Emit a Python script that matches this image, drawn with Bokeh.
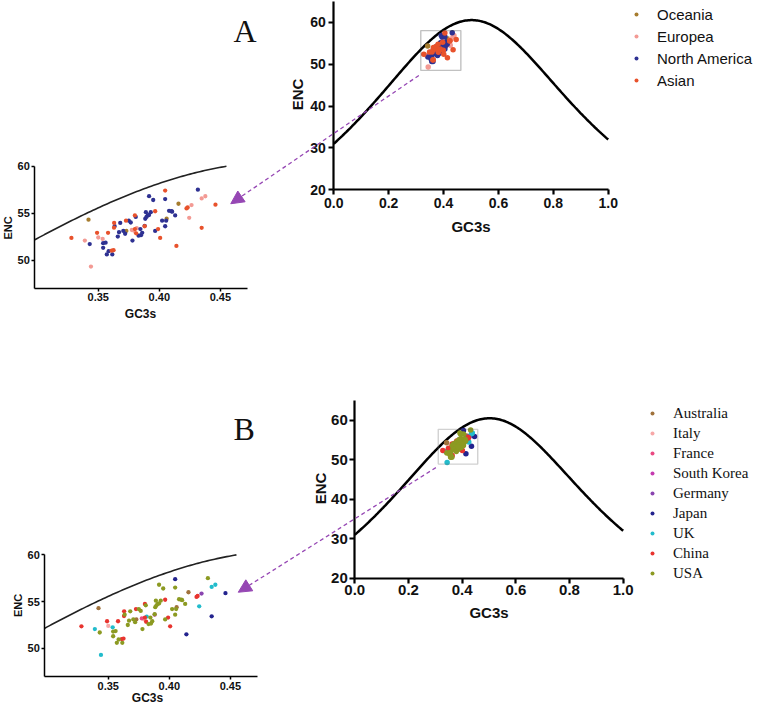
import math
import numpy as np
from bokeh.plotting import figure
from bokeh.models import (Range1d, FixedTicker, NumeralTickFormatter, Legend, LegendItem,
                          Arrow, NormalHead, BoxAnnotation, Label, LinearAxis)
from bokeh.embed import file_html
from bokeh.resources import INLINE

# ---------------- data ----------------
gc3s = [0.328, 0.349, 0.358, 0.361, 0.3625, 0.363, 0.3629, 0.3727, 0.380, 0.380, 0.381, 0.3966,
        0.399, 0.4007, 0.4223, 0.4232,
        0.4048, 0.414, 0.4347, 0.446,
        0.388,
        0.4264,
        0.3775,
        0.350, 0.3795,
        0.339, 0.344, 0.3536, 0.3815, 0.4245, 0.4347, 0.4377,
        0.342, 0.4157, 0.406, 0.373,
        0.343, 0.354, 0.356, 0.354, 0.357, 0.3585, 0.3615, 0.3634, 0.366, 0.367, 0.368, 0.3705,
        0.372, 0.375, 0.3766, 0.378, 0.3807, 0.383, 0.385, 0.386, 0.3885, 0.3895, 0.3905, 0.3916,
        0.393, 0.3916, 0.395, 0.3966, 0.4023, 0.4048, 0.4048, 0.4056, 0.408, 0.410, 0.4105, 0.413,
        0.4316, 0.389, 0.388, 0.3845]
enc = [52.36, 52.9, 52.9, 51.0, 51.05, 53.96, 53.45, 54.2, 54.75, 53.3, 52.85, 55.2,
       53.3, 52.36, 55.5, 55.6,
       57.4, 51.5, 53.43, 55.9,
       53.6,
       55.86,
       53.2,
       52.4, 53.1,
       52.07, 49.3, 52.25, 53.4, 54.5, 56.57, 56.8,
       54.3, 56.0, 54.4, 53.1,
       51.7, 51.8, 51.85, 51.3, 50.6, 50.95, 50.6, 53.6, 52.5, 52.96, 53.96, 53.1,
       52.8, 54.2, 54.0, 52.07, 54.6, 52.6, 52.65, 52.9, 54.4, 54.6, 54.75, 54.8,
       55.1, 56.8, 56.4, 53.1, 54.2, 56.5, 53.6, 54.2, 55.25, 55.2, 55.15, 54.75,
       57.5, 55.1, 53.65, 53.3]
country = (["China"] * 16 + ["Japan"] * 4 + ["South Korea"] + ["Germany"] + ["France"]
           + ["Italy"] * 2 + ["UK"] * 7 + ["Australia"] * 4 + ["USA"] * 40)

region_of = {"China": "Asian", "Japan": "Asian", "South Korea": "Asian",
             "Italy": "Europea", "France": "Europea", "Germany": "Europea", "UK": "Europea",
             "USA": "North America", "Australia": "Oceania"}

regions = ["Oceania", "Europea", "North America", "Asian"]
region_colors = ["#a67c2e", "#f39a94", "#2e3192", "#e8522c"]
countries = ["Australia", "Italy", "France", "South Korea", "Germany", "Japan", "UK", "China", "USA"]
country_colors = ["#a0723c", "#f7a8a8", "#ea4a82", "#c53bb0", "#8a45b0", "#23238e", "#22bccc",
                  "#e8342f", "#8c9a22"]

x_ticks_main = [0.0, 0.2, 0.4, 0.6, 0.8, 1.0]
y_ticks_main = [20, 30, 40, 50, 60]
x_ticks_inset = [0.35, 0.40, 0.45]
y_ticks_inset = [50, 55, 60]

# expected ENC curve (Wright): ENC = 2 + s + 29 / (s^2 + (1 - s)^2)
curve_s_main = np.linspace(0.0, 1.0, 201)
curve_s_inset = np.linspace(0.298, 0.455, 80)


def expected_enc(s):
    return 2 + s + 29 / (s ** 2 + (1 - s) ** 2)


# ---------------- page geometry (pixel coords, y down) ----------------
PX0, PX1, PY0, PY1 = 0, 769, 0, 706
W, H = PX1 - PX0, PY1 - PY0

G = {
    "insA": dict(fl=34.3, ft=165.7, fw=212.4, fh=122.0, xr=(0.298, 0.472), yr=(47, 60)),
    "mainA": dict(fl=333.3, ft=0.75, fw=274.4, fh=188.55, xr=(0.0, 1.0), yr=(20, 65)),
    "insB": dict(fl=44.3, ft=554.3, fw=212.4, fh=121.7, xr=(0.298, 0.472), yr=(47, 60)),
    "mainB": dict(fl=354.3, ft=400.0, fw=268.4, fh=177.7, xr=(0.0, 1.0), yr=(20, 65)),
}


def to_page(g, x, y):
    x0, x1 = g["xr"]
    y0, y1 = g["yr"]
    return (g["fl"] + (x - x0) / (x1 - x0) * g["fw"],
            g["ft"] + (y1 - y) / (y1 - y0) * g["fh"])


p = figure(width=W, height=H, x_range=Range1d(PX0, PX1), y_range=Range1d(PY1, PY0),
           x_axis_type=None, y_axis_type=None, output_backend="svg",
           toolbar_location=None, tools="", min_border=0)
p.min_border_left = p.min_border_right = p.min_border_top = p.min_border_bottom = 0
p.outline_line_color = None
p.xgrid.visible = False
p.ygrid.visible = False
p.background_fill_color = "white"
p.border_fill_color = "white"

# extra ranges so that each sub-plot maps to its own frame on the page
for k, g in G.items():
    x0, x1 = g["xr"]
    y0, y1 = g["yr"]
    ppx = g["fw"] / (x1 - x0)
    ppy = g["fh"] / (y1 - y0)
    p.extra_x_ranges[k + "_x"] = Range1d(x0 - (g["fl"] - PX0) / ppx, x0 + (PX1 - g["fl"]) / ppx)
    p.extra_y_ranges[k + "_y"] = Range1d(y1 - (PY1 - g["ft"]) / ppy, y1 + (g["ft"] - PY0) / ppy)


def add_axes(k, xticks, yticks, xfmt, tick_size, lw, tick_out, stand):
    g = G[k]
    common = dict(x_range_name=k + "_x", y_range_name=k + "_y", axis_line_width=lw,
                  axis_line_color="black", major_tick_line_width=lw, major_tick_line_color="black",
                  major_tick_out=tick_out, major_tick_in=0, minor_tick_line_color=None,
                  major_label_text_font="Liberation Sans", major_label_text_font_style="bold",
                  major_label_text_font_size=tick_size, major_label_text_color="#111111",
                  major_label_standoff=stand)
    xa = LinearAxis(fixed_location=g["yr"][0], bounds=g["xr"], ticker=FixedTicker(ticks=xticks),
                    formatter=NumeralTickFormatter(format=xfmt), **common)
    ya = LinearAxis(fixed_location=g["xr"][0], bounds=g["yr"], ticker=FixedTicker(ticks=yticks),
                    **common)
    p.add_layout(xa, "below")
    p.add_layout(ya, "left")


def text(x, y, s, size, angle=0.0, font="Liberation Sans", style="bold", align="center",
         baseline="middle"):
    p.add_layout(Label(x=x, y=y, text=s, text_font=font, text_font_style=style,
                       text_font_size=size, text_color="#111111", angle=angle,
                       text_align=align, text_baseline=baseline))


PURPLE = "#9647b4"


def panel(ki, km, groups, colors, group_of, legend_font, lh, legend_tl, box, box_color, tail, tip,
          letter, letter_pos, main_tick, main_stand, lab_main, lab_ins):
    # inset
    p.line(curve_s_inset, expected_enc(curve_s_inset), line_color="#222222", line_width=1.6,
           x_range_name=ki + "_x", y_range_name=ki + "_y")
    for grp, col in zip(groups, colors):
        idx = [i for i, c in enumerate(country) if group_of(c) == grp]
        p.scatter([gc3s[i] for i in idx], [enc[i] for i in idx], size=4.3, color=col,
                  line_color=None, x_range_name=ki + "_x", y_range_name=ki + "_y")
    add_axes(ki, x_ticks_inset, y_ticks_inset, "0.00", "11px", 1.5, 3, 2)

    # main
    p.line(curve_s_main, expected_enc(curve_s_main), line_color="black", line_width=2.5,
           x_range_name=km + "_x", y_range_name=km + "_y")
    items = []
    for grp, col in zip(groups, colors):
        idx = [i for i, c in enumerate(country) if group_of(c) == grp]
        r = p.scatter([gc3s[i] for i in idx], [enc[i] for i in idx], size=5.5, color=col,
                      line_color=None, x_range_name=km + "_x", y_range_name=km + "_y")
        items.append(LegendItem(label=grp, renderers=[r]))
    add_axes(km, x_ticks_main, y_ticks_main, "0.0", main_tick, 2.2, 5, main_stand)
    p.add_layout(BoxAnnotation(left=box[0], right=box[1], bottom=box[2], top=box[3],
                               x_range_name=km + "_x", y_range_name=km + "_y",
                               fill_alpha=0, line_color=box_color, line_width=1.4))

    # axis titles
    (gx, gy), (ex, ey) = lab_main
    text(gx, gy, "GC3s", "15px")
    text(ex, ey, "ENC", "15px", angle=math.pi / 2)
    (gx, gy), (ex, ey) = lab_ins
    text(gx, gy, "GC3s", "12px")
    text(ex, ey, "ENC", "11px", angle=math.pi / 2)

    # legend
    lx, ly = legend_tl
    leg = Legend(items=items, location=(lx - PX0, PY1 - (ly + len(groups) * lh)),
                 label_text_font=legend_font, label_text_font_size="15px",
                 label_text_color="#111111", glyph_width=10, glyph_height=lh, label_height=lh,
                 label_standoff=16, spacing=0, padding=0, margin=0,
                 border_line_color=None, background_fill_alpha=0)
    p.add_layout(leg)

    # zoom arrow: from the box in the main plot to the inset
    sx, sy = to_page(G[km], *tail)
    ex_, ey_ = to_page(G[ki], *tip)
    p.add_layout(Arrow(end=NormalHead(size=13, fill_color=PURPLE, line_color=PURPLE),
                       x_start=sx, y_start=sy, x_end=ex_, y_end=ey_,
                       line_color=PURPLE, line_width=1.3, line_dash="4 3"))

    text(letter_pos[0], letter_pos[1], letter, "32px", font="Liberation Serif", style="normal",
         align="left", baseline="alphabetic")


panel("insA", "mainA", regions, region_colors, lambda c: region_of[c], "Liberation Sans", 22,
      (631, 3), (0.317, 0.463, 48.5, 58.0), "#333333", (0.31, 47.3), (0.4585, 56.0), "A",
      (233, 30), "14px", 3, ((470.5, 226), (297, 94)), ((140, 313), (7, 227.5)))
panel("insB", "mainB", countries, country_colors, lambda c: c, "Liberation Serif", 20,
      (647, 403), (0.311, 0.458, 48.9, 57.7), "#666666", (0.302, 48.0), (0.4565, 56.0), "B",
      (233, 428), "15px", 2, ((488.5, 611.7), (320, 488)), ((147, 697), (17.5, 605)))

open("out.html", "w").write(file_html(p, INLINE))
